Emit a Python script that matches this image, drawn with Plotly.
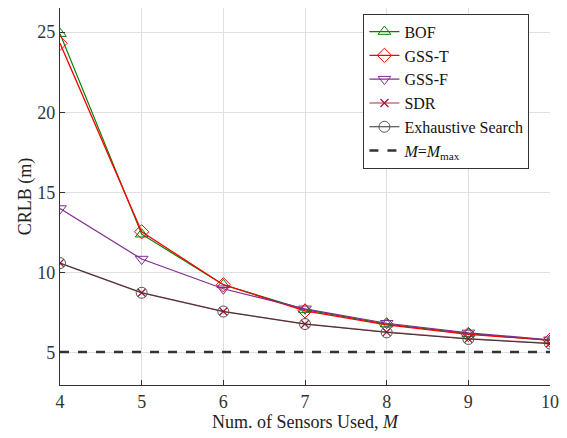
import plotly.graph_objects as go

M = [4, 5, 6, 7, 8, 9, 10]
bof = [24.9, 12.4, 9.25, 7.7, 6.8, 6.2, 5.78]
gss_t = [24.3, 12.55, 9.25, 7.62, 6.75, 6.15, 5.8]
gss_f = [14.0, 10.85, 9.0, 7.75, 6.85, 6.25, 5.82]
sdr = [10.6, 8.75, 7.58, 6.8, 6.3, 5.88, 5.6]
es = [10.6, 8.75, 7.58, 6.8, 6.28, 5.87, 5.58]
m_max = 5.05

font = "Liberation Serif, Times New Roman, serif"
fig = go.Figure()
fig.add_trace(go.Scatter(x=M, y=bof, name="BOF", mode="lines+markers",
                         line=dict(color="#008000", width=1.2),
                         marker=dict(symbol="triangle-up-open", size=11, color="#008000")))
fig.add_trace(go.Scatter(x=M, y=gss_t, name="GSS-T", mode="lines+markers",
                         line=dict(color="#FF0000", width=1.3),
                         marker=dict(symbol="diamond-open", size=11, color="#FF0000")))
fig.add_trace(go.Scatter(x=M, y=gss_f, name="GSS-F", mode="lines+markers",
                         line=dict(color="#7E2F8E", width=1.2),
                         marker=dict(symbol="triangle-down-open", size=11, color="#7E2F8E")))
fig.add_trace(go.Scatter(x=M, y=sdr, name="SDR", mode="lines+markers",
                         line=dict(color="rgba(162,20,47,0.6)", width=1.5),
                         marker=dict(symbol="x-thin-open", size=8, color="#A2142F", line=dict(width=1.2, color="#A2142F"))))
fig.add_trace(go.Scatter(x=M, y=es, name="Exhaustive Search", mode="lines+markers",
                         line=dict(color="#333333", width=1.0),
                         marker=dict(symbol="circle-open", size=11, color="#555555")))
fig.add_trace(go.Scatter(x=[M[0], M[-1]], y=[m_max, m_max], name="<i>M</i>=<i>M</i><sub>max</sub>",
                         mode="lines", line=dict(color="#333333", width=2.5, dash="dash")))

axis_common = dict(showgrid=True, gridcolor="#DFDFDF", gridwidth=1, ticks="inside", ticklen=5,
                   tickcolor="#333333", showline=True, linecolor="#333333", linewidth=1.2,
                   zeroline=False, tickfont=dict(size=18, color="#333333"), mirror=False,
                   automargin=False)
fig.update_layout(
    width=559, height=430,
    margin=dict(l=52, r=17, t=0, b=53),
    paper_bgcolor="white", plot_bgcolor="white",
    font=dict(family=font, size=18, color="#222222"),
    xaxis=dict(range=[4, 10], tickvals=M, title=dict(text="Num. of Sensors Used, <i>M</i>", font=dict(size=18), standoff=2), **axis_common),
    yaxis=dict(range=[3, 26.5], tickvals=[5, 10, 15, 20, 25], title=dict(text="CRLB (m)", font=dict(size=18), standoff=0), **axis_common),
    legend=dict(x=0.958, y=0.985, xanchor="right", yanchor="top", bgcolor="white",
                bordercolor="#333333", borderwidth=1, font=dict(size=16, color="#111111"),
                tracegroupgap=0, itemwidth=30),
    showlegend=True,
)
fig.write_html("out.html")
